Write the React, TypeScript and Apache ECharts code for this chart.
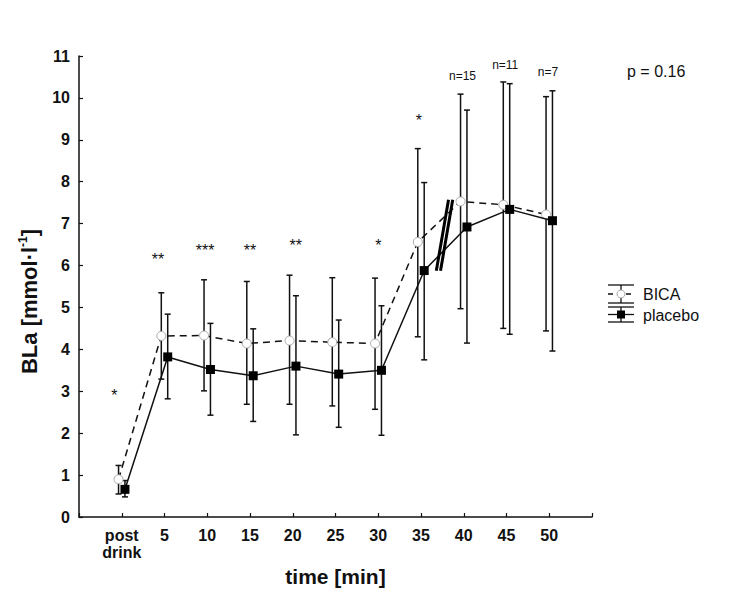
import React, { useEffect, useRef } from "react";
import * as echarts from "echarts";

// x categories (index 0..10)
const categories = ["post\ndrink", "5", "10", "15", "20", "25", "30", "35", "40", "45", "50"];
const yTicks = [0, 1, 2, 3, 4, 5, 6, 7, 8, 9, 10, 11];

// BICA (open circles, dashed)
const bicaMean = [0.9, 4.32, 4.33, 4.14, 4.21, 4.17, 4.14, 6.56, 7.53, 7.45, 7.22];
const bicaUpper = [1.23, 5.35, 5.66, 5.62, 5.77, 5.71, 5.7, 8.79, 10.09, 10.38, 10.03];
const bicaLower = [0.55, 3.29, 3.01, 2.69, 2.69, 2.65, 2.57, 4.3, 4.97, 4.5, 4.44];

// placebo (filled squares, solid)
const placeboMean = [0.66, 3.82, 3.52, 3.37, 3.6, 3.41, 3.5, 5.88, 6.92, 7.34, 7.07];
const placeboUpper = [0.87, 4.84, 4.62, 4.49, 5.28, 4.7, 5.04, 7.98, 9.71, 10.34, 10.17];
const placeboLower = [0.48, 2.82, 2.43, 2.28, 1.96, 2.14, 1.95, 3.75, 4.15, 4.36, 3.96];

// annotations
const significance = ["*", "**", "***", "**", "**", "", "*", "*", "", "", ""];
const significanceLevel = [2.9, 6.15, 6.35, 6.35, 6.47, 0, 6.47, 9.45, 0, 0, 0];
const significanceShift = [-0.17, -0.15, -0.05, 0, 0.07, 0, 0, -0.05, 0, 0, 0];
const sampleSizes = ["", "", "", "", "", "", "", "", "n=15", "n=11", "n=7"];
const sampleSizeLevel = [0, 0, 0, 0, 0, 0, 0, 0, 10.52, 10.79, 10.62];
const pValueText = "p = 0.16";

const FONT = "'Liberation Sans', Arial, Helvetica, sans-serif";
const BLACK = "#111";

export default function App() {
  const ref = useRef<HTMLDivElement | null>(null);

  useEffect(() => {
    if (!ref.current) return;
    const chart = echarts.init(ref.current, undefined, { renderer: "svg" });
    const dx = 0.075;

    const errRender = (params: any, api: any) => {
      const x = api.value(0);
      const lo = api.value(1);
      const hi = api.value(2);
      const p1 = api.coord([x, hi]);
      const p2 = api.coord([x, lo]);
      const w = 3;
      const st = { stroke: BLACK, lineWidth: 1.5 };
      return {
        type: "group",
        children: [
          { type: "line", shape: { x1: p1[0], y1: p1[1], x2: p2[0], y2: p2[1] }, style: st },
          { type: "line", shape: { x1: p1[0] - w, y1: p1[1], x2: p1[0] + w, y2: p1[1] }, style: st },
          { type: "line", shape: { x1: p2[0] - w, y1: p2[1], x2: p2[0] + w, y2: p2[1] }, style: st },
        ],
      };
    };

    const textRender = (size: number, texts: string[]) => (params: any, api: any) => {
      const p = api.coord([api.value(0), api.value(1)]);
      return {
        type: "text",
        x: p[0],
        y: p[1],
        style: {
          text: texts[params.dataIndex],
          fill: BLACK,
          font: `${size}px ${FONT}`,
          align: "center",
          verticalAlign: "middle",
        },
      };
    };

    const sigIdx = significance.map((s, i) => i).filter((i) => significance[i]);
    const sigData = sigIdx.map((i) => [i + significanceShift[i], significanceLevel[i]]);
    const sigTexts = sigIdx.map((i) => significance[i]);
    const nIdx = sampleSizes.map((s, i) => i).filter((i) => sampleSizes[i]);
    const nData = nIdx.map((i) => [i - 0.03, sampleSizeLevel[i]]);
    const nTexts = nIdx.map((i) => sampleSizes[i]);

    const option: any = {
      animation: false,
      grid: { left: 79, right: 137, top: 56, bottom: 93, containLabel: false },
      xAxis: {
        type: "value",
        min: -1,
        max: 11,
        interval: 1,
        splitLine: { show: false },
        axisLine: { onZero: false, lineStyle: { color: BLACK, width: 1.5 } },
        axisTick: { inside: true, length: 4, lineStyle: { color: BLACK, width: 1.2 } },
        axisLabel: {
          color: BLACK,
          fontFamily: FONT,
          fontWeight: "bold",
          fontSize: 16,
          lineHeight: 17,
          margin: 10,
          formatter: (v: number) => (v >= 0 && v < categories.length ? categories[v] : ""),
        },
        name: "time [min]",
        nameLocation: "middle",
        nameGap: 41,
        nameTextStyle: { color: BLACK, fontFamily: FONT, fontWeight: "bold", fontSize: 21 },
      },
      yAxis: {
        type: "value",
        min: yTicks[0],
        max: yTicks[yTicks.length - 1],
        interval: 1,
        splitLine: { show: false },
        axisLine: { show: true, onZero: false, lineStyle: { color: BLACK, width: 1.5 } },
        axisTick: { show: true, inside: true, length: 4, lineStyle: { color: BLACK, width: 1.2 } },
        axisLabel: { color: BLACK, fontFamily: FONT, fontWeight: "bold", fontSize: 16, margin: 9 },
        name: "{a|BLa [mmol·l}{b|-1}{a|]}",
        nameLocation: "middle",
        nameGap: 37,
        nameTextStyle: {
          padding: [0, 0, 0, -30],
          rich: {
            a: { color: BLACK, fontFamily: FONT, fontWeight: "bold", fontSize: 22, lineHeight: 25 },
            b: { color: BLACK, fontFamily: FONT, fontWeight: "bold", fontSize: 12, lineHeight: 25, verticalAlign: "top", padding: [0, 0, 10, 0] },
          },
        },
      },
      series: [
        {
          type: "custom",
          name: "bicaErr",
          renderItem: errRender,
          data: bicaMean.map((_, i) => [i - dx, bicaLower[i], bicaUpper[i]]),
          z: 2,
          silent: true,
        },
        {
          type: "custom",
          name: "placeboErr",
          renderItem: errRender,
          data: placeboMean.map((_, i) => [i + dx, placeboLower[i], placeboUpper[i]]),
          z: 2,
          silent: true,
        },
        {
          type: "line",
          name: "BICA",
          data: bicaMean.map((v, i) => [i - dx, v]),
          lineStyle: { color: BLACK, width: 1.5, type: [7, 5] },
          symbol: "circle",
          symbolSize: 9,
          itemStyle: { color: "#fff", borderColor: "#aaa", borderWidth: 1 },
          z: 4,
        },
        {
          type: "line",
          name: "placebo",
          data: placeboMean.map((v, i) => [i + dx, v]),
          lineStyle: { color: BLACK, width: 1.5 },
          symbol: "rect",
          symbolSize: 9,
          itemStyle: { color: "#000" },
          z: 5,
        },
        {
          type: "custom",
          name: "sig",
          renderItem: textRender(16, sigTexts),
          data: sigData,
          z: 6,
          silent: true,
        },
        {
          type: "custom",
          name: "n",
          renderItem: textRender(12, nTexts),
          data: nData,
          z: 6,
          silent: true,
        },
      ],
    };
    chart.setOption(option);

    // axis break marks between 35 and 40, positioned through the grid scale
    const c = chart.convertToPixel({ gridIndex: 0 }, [7.55, 6.72]) as number[];
    const bx = 6.1;
    const by = 35.5;
    const breakStyle = { stroke: "#000", lineWidth: 3 };
    const gx = 2.1;

    // legend geometry
    const lx = 608;
    const lw = 26;
    const lcx = lx + lw / 2;
    const legendLine = { stroke: BLACK, lineWidth: 1.3 };

    chart.setOption({
      graphic: [
        { type: "line", shape: { x1: c[0] - bx - gx, y1: c[1] + by, x2: c[0] + bx - gx, y2: c[1] - by }, style: breakStyle, z: 10 },
        { type: "line", shape: { x1: c[0] - bx + gx, y1: c[1] + by, x2: c[0] + bx + gx, y2: c[1] - by }, style: breakStyle, z: 10 },
        {
          type: "text",
          left: 627,
          top: 63,
          style: { text: pValueText, fill: BLACK, font: `16px ${FONT}` },
        },
        // BICA legend icon
        { type: "line", shape: { x1: lx, y1: 285, x2: lx + lw, y2: 285 }, style: legendLine },
        { type: "line", shape: { x1: lx, y1: 303, x2: lx + lw, y2: 303 }, style: legendLine },
        { type: "line", shape: { x1: lcx, y1: 285, x2: lcx, y2: 303 }, style: legendLine },
        { type: "line", shape: { x1: lx, y1: 294, x2: lx + lw, y2: 294 }, style: { stroke: BLACK, lineWidth: 1.3, lineDash: [5, 4] } },
        { type: "circle", shape: { cx: lcx, cy: 294, r: 4 }, style: { fill: "#fff", stroke: "#aaa", lineWidth: 1 } },
        { type: "text", x: 643, y: 294, style: { text: "BICA", fill: BLACK, font: `16px ${FONT}`, verticalAlign: "middle" } },
        // placebo legend icon
        { type: "line", shape: { x1: lx, y1: 307, x2: lx + lw, y2: 307 }, style: legendLine },
        { type: "line", shape: { x1: lx, y1: 322, x2: lx + lw, y2: 322 }, style: legendLine },
        { type: "line", shape: { x1: lcx, y1: 307, x2: lcx, y2: 322 }, style: legendLine },
        { type: "line", shape: { x1: lx, y1: 314.5, x2: lx + lw, y2: 314.5 }, style: legendLine },
        { type: "rect", shape: { x: lcx - 4, y: 310.5, width: 8, height: 8 }, style: { fill: "#000" } },
        { type: "text", x: 643, y: 315, style: { text: "placebo", fill: BLACK, font: `16px ${FONT}`, verticalAlign: "middle" } },
      ],
    });

    return () => chart.dispose();
  }, []);

  return (
    <div
      ref={ref}
      style={{ position: "absolute", left: 0, top: 0, width: 729, height: 610, background: "#fff" }}
    />
  );
}
